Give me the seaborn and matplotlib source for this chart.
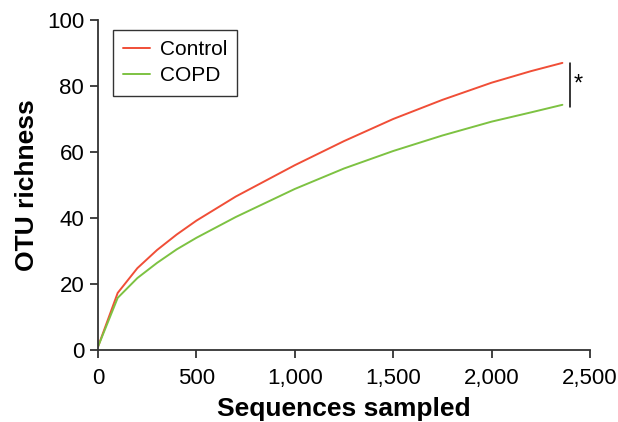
import matplotlib
matplotlib.use("Agg")
import pandas as pd
import seaborn as sns
from matplotlib import pyplot as plt
from matplotlib.ticker import FuncFormatter

# rarefaction curves
seqs = [0, 100, 200, 300, 400, 500, 700, 1000, 1250, 1500, 1750, 2000, 2200, 2360]
control = [1, 17.3, 24.8, 30.3, 35, 39.2, 46.5, 56, 63.3, 70, 75.8, 81, 84.5, 87]
copd = [1, 15.8, 21.8, 26.4, 30.5, 34, 40.3, 48.8, 55, 60.3, 65, 69.2, 72, 74.3]
groups = ["Control", "COPD"]
colors = ["#f04e37", "#7dc242"]

df = pd.DataFrame({
    "Sequences sampled": seqs * 2,
    "OTU richness": control + copd,
    "group": [groups[0]] * len(seqs) + [groups[1]] * len(seqs),
})

sns.set_style("ticks")
plt.rcParams["font.family"] = ["Liberation Sans", "DejaVu Sans"]
plt.rcParams["text.color"] = "black"
plt.rcParams["axes.labelcolor"] = "black"
plt.rcParams["xtick.color"] = "#333333"
plt.rcParams["ytick.color"] = "#333333"
plt.rcParams["xtick.labelcolor"] = "black"
plt.rcParams["ytick.labelcolor"] = "black"

fig = plt.figure(figsize=(6.18, 4.22), dpi=100)
ax = fig.add_axes([0.1586, 0.1706, 0.796, 0.782])
sns.lineplot(data=df, x="Sequences sampled", y="OTU richness", hue="group",
             palette=colors, linewidth=1.4, ax=ax)

ax.set_xlim(0, 2500)
ax.set_ylim(0, 100)
ax.set_xticks([0, 500, 1000, 1500, 2000, 2500])
ax.set_yticks([0, 20, 40, 60, 80, 100])
ax.xaxis.set_major_formatter(FuncFormatter(lambda v, p: f"{int(v):,}"))
ax.tick_params(labelsize=16, length=6, width=1.3, pad=4)
ax.tick_params(axis="x", pad=7)
sns.despine(ax=ax)
for s in ["left", "bottom"]:
    ax.spines[s].set_linewidth(1.3)
    ax.spines[s].set_color("#333333")
ax.set_xlabel("Sequences sampled", fontsize=19, fontweight="bold", labelpad=6)
ax.set_ylabel("OTU richness", fontsize=19, fontweight="bold", labelpad=6)

# significance mark
ax.plot([2400, 2400], [73.5, 87], color="black", linewidth=1.1, clip_on=False)
ax.text(2415, 80.5, "*", fontsize=17, ha="left", va="center")

leg = ax.legend(loc="upper left", bbox_to_anchor=(0.03, 0.97), fontsize=15,
                frameon=True, fancybox=False, handlelength=1.3, borderpad=0.5,
                labelspacing=0.33, handletextpad=0.45, borderaxespad=0, title=None)
leg.get_frame().set_edgecolor("black")
leg.get_frame().set_linewidth(1.0)

fig.savefig("out.png", dpi=100)
